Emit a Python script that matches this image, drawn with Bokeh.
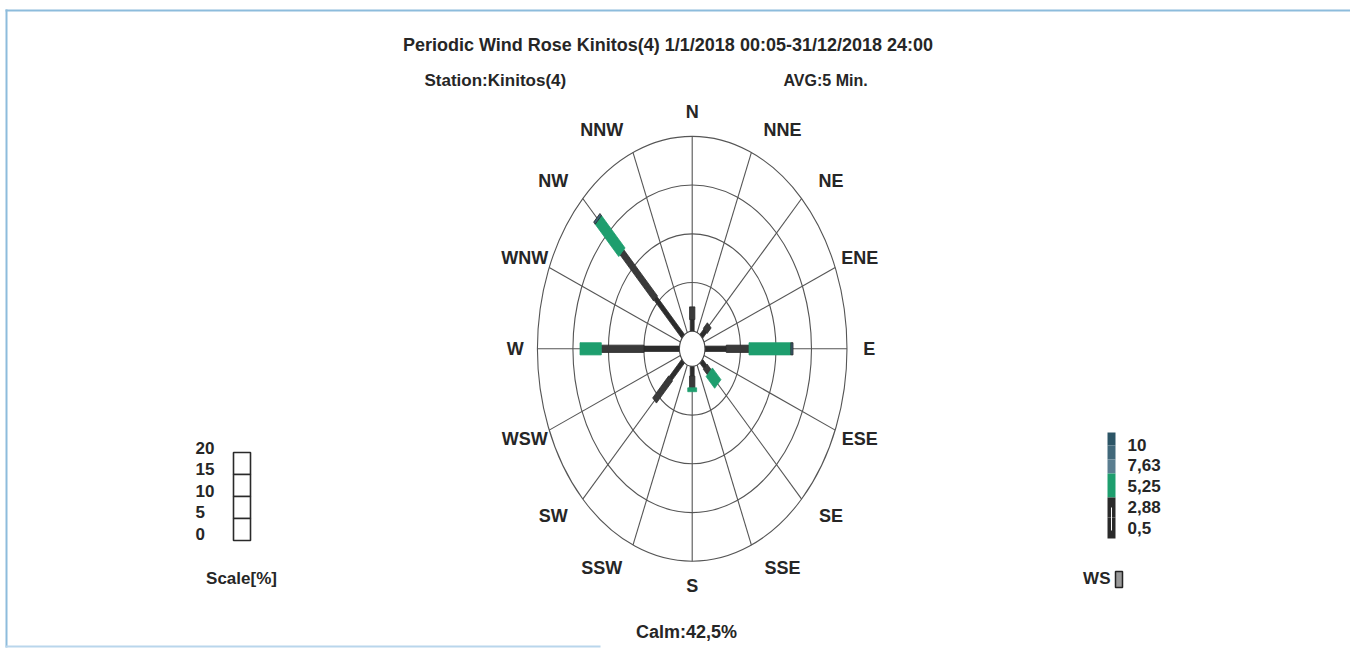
import math
from bokeh.plotting import figure
from bokeh.models import Range1d
from bokeh.core.properties import value
from bokeh.embed import file_html
from bokeh.resources import INLINE

# ---------------- data ----------------
directions = ["N", "NNE", "NE", "ENE", "E", "ESE", "SE", "SSE",
              "S", "SSW", "SW", "WSW", "W", "WNW", "NW", "NNW"]
# frequency [%] per wind-speed class
ws_0_5_2_88 = [1.2, 0, 0.8, 0, 3.0, 0, 0.8, 0, 1.0, 0, 2.5, 0, 5.0, 0, 5.5, 0]
ws_2_88_5_25 = [1.3, 0, 0.8, 0, 3.2, 0, 0.8, 0, 1.2, 0, 3.2, 0, 6.0, 0, 6.7, 0]
ws_5_25_7_63 = [0, 0, 0, 0, 5.9, 0, 1.7, 0, 0.4, 0, 0, 0, 3.0, 0, 4.7, 0]
ws_7_63_10 = [0, 0, 0, 0, 0.3, 0, 0, 0, 0, 0, 0, 0, 0, 0, 0.3, 0]
scale_ticks = [20, 15, 10, 5, 0]
ws_ticks = ["10", "7,63", "5,25", "2,88", "0,5"]
calm_pct = "42,5"
title_text = "Periodic Wind Rose Kinitos(4) 1/1/2018 00:05-31/12/2018 24:00"
station_text = "Station:Kinitos(4)"
avg_text = "AVG:5 Min."

# ---------------- layout ----------------
W, H = 1350, 648
OX, OY = 0, 0                # page position of the figure
CX, CY = 691.7, 348.3        # page pixel position of rose centre
SX, SY = 7.1, 9.75           # px per % unit (elliptic rose)
CALM_R = 1.8                 # radius of calm circle in % units
RING_STEP = 5
N_RINGS = 4
FONT = value("'Liberation Sans Narrow', 'Arial Narrow', 'Liberation Sans', sans-serif")
TXT = "#262626"


def dx(px):
    return (px - CX) / SX


def dy(py):
    return (CY - py) / SY


p = figure(width=W, height=H, output_backend="svg", toolbar_location=None,
           x_range=Range1d(dx(OX), dx(OX + W)), y_range=Range1d(dy(OY + H), dy(OY)),
           min_border=0, outline_line_color=None, background_fill_color="white",
           border_fill_color="white")
p.axis.visible = False
p.grid.visible = False

# page frame (light blue bands)
p.quad(left=[dx(5), dx(5), dx(5)], right=[dx(1361), dx(7), dx(600)],
       top=[dy(9), dy(9), dy(645)], bottom=[dy(11), dy(647), dy(647)],
       fill_color=["#8dbcdc", "#8dbcdc", "#b9d6ec"], line_color=None)

# rings
ring_r = [CALM_R + RING_STEP * k for k in range(1, N_RINGS + 1)]
p.ellipse(x=[0] * len(ring_r), y=[0] * len(ring_r),
          width=[2 * r for r in ring_r], height=[2 * r for r in ring_r],
          fill_alpha=0, line_color="#555555", line_width=1.1)

# spokes
outer = ring_r[-1]
n = len(directions)
angles = [2 * math.pi * i / n for i in range(n)]
xs_sp, ys_sp = [], []
for a in angles:
    xs_sp.append([CALM_R * math.sin(a), outer * math.sin(a)])
    ys_sp.append([CALM_R * math.cos(a), outer * math.cos(a)])
p.multi_line(xs_sp, ys_sp, line_color="#555555", line_width=1.1)

# stacked bars
classes = [
    (ws_0_5_2_88, 0.55, "#2c2c2c", "#2c2c2c"),
    (ws_2_88_5_25, 0.75, "#3a3a3a", "#2a2a2a"),
    (ws_5_25_7_63, 1.25, "#1e9e6e", "#1e9e6e"),
    (ws_7_63_10, 1.25, "#3d6275", "#222222"),
]
cum = [0.0] * n
for vals, wid, fc, lc in classes:
    pxs, pys = [], []
    for i, a in enumerate(angles):
        v = vals[i]
        if v <= 0:
            continue
        r0 = CALM_R + cum[i]
        r1 = CALM_R + cum[i] + v
        ux, uy = math.sin(a), math.cos(a)
        nx, ny = math.cos(a), -math.sin(a)
        h = wid / 2
        pxs.append([r0 * ux + h * nx, r1 * ux + h * nx, r1 * ux - h * nx, r0 * ux - h * nx])
        pys.append([r0 * uy + h * ny, r1 * uy + h * ny, r1 * uy - h * ny, r0 * uy - h * ny])
        cum[i] += v
    if pxs:
        p.patches(pxs, pys, fill_color=fc, line_color=lc, line_width=0.8)

# calm circle
p.ellipse(x=[0], y=[0], width=[2 * CALM_R], height=[2 * CALM_R],
          fill_color="white", line_color="#444444", line_width=1.1)

# direction labels
RH, RV = 177.0, 237.0
lx, ly = [], []
for a in angles:
    s, c = math.sin(a), math.cos(a)
    xr = RH * math.copysign(abs(s) ** 0.7, s) if abs(s) > 1e-9 else 0.0
    yr = RV * c
    lx.append(xr / SX)
    ly.append(yr / SY)
p.text(lx, ly, text=directions, text_font=FONT, text_font_style="bold",
       text_font_size="18px", text_color=TXT, text_align="center",
       text_baseline="middle")

# titles
p.text([dx(667.5)], [dy(44)], text=[title_text], text_font=FONT, text_font_style="bold",
       text_font_size="18px", text_color=TXT, text_align="center", text_baseline="middle")
p.text([dx(424)], [dy(80)], text=[station_text], text_font=FONT, text_font_style="bold",
       text_font_size="17px", text_color=TXT, text_align="left", text_baseline="middle")
p.text([dx(783)], [dy(80)], text=[avg_text], text_font=FONT, text_font_style="bold",
       text_font_size="16px", text_color=TXT, text_align="left", text_baseline="middle")
p.text([dx(686)], [dy(631)], text=["Calm:" + calm_pct + "%"], text_font=FONT,
       text_font_style="bold", text_font_size="18px", text_color=TXT,
       text_align="center", text_baseline="middle")

# scale legend (left)
box_top, box_h = 452, 22
p.quad(left=[dx(233)] * 4, right=[dx(250)] * 4,
       top=[dy(box_top + k * box_h) for k in range(4)],
       bottom=[dy(box_top + (k + 1) * box_h) for k in range(4)],
       fill_color="white", line_color="#2a2a2a", line_width=1.6)
sl_y = [447 + k * 21.5 for k in range(len(scale_ticks))]
p.text([dx(195)] * len(scale_ticks), [dy(v) for v in sl_y], text=[str(t) for t in scale_ticks],
       text_font=FONT, text_font_style="bold", text_font_size="17px", text_color=TXT,
       text_align="left", text_baseline="middle")
p.text([dx(241)], [dy(578)], text=["Scale[%]"], text_font=FONT, text_font_style="bold",
       text_font_size="17px", text_color=TXT, text_align="center", text_baseline="middle")

# wind-speed legend (right)
bar_l, bar_r = 1107, 1115
seg_tops = [432, 445, 459, 473, 497, 517]
seg_bots = [445, 459, 473, 497, 517, 538]
seg_cols = ["#2c5566", "#41687a", "#5a7e90", "#1e9e6e", "#2a2a2a", "#2a2a2a"]
p.quad(left=[dx(bar_l)] * 6, right=[dx(bar_r)] * 6,
       top=[dy(t) for t in seg_tops], bottom=[dy(b) for b in seg_bots],
       fill_color=seg_cols, line_color=None)
p.quad(left=[dx(1110.5)], right=[dx(1111.5)], top=[dy(507)], bottom=[dy(530)],
       fill_color="white", line_color=None)
wl_y = [444 + k * 20.8 for k in range(len(ws_ticks))]
p.text([dx(1127)] * len(ws_ticks), [dy(v) for v in wl_y], text=ws_ticks,
       text_font=FONT, text_font_style="bold", text_font_size="17px", text_color=TXT,
       text_align="left", text_baseline="middle")
p.text([dx(1110)], [dy(578)], text=["WS"], text_font=FONT, text_font_style="bold",
       text_font_size="17px", text_color=TXT, text_align="right", text_baseline="middle")
p.quad(left=[dx(1115)], right=[dx(1122)], top=[dy(571)], bottom=[dy(587)],
       fill_color="#9a9a9a", line_color="#222222", line_width=1.5)

open("out.html", "w").write(file_html(p, INLINE))
